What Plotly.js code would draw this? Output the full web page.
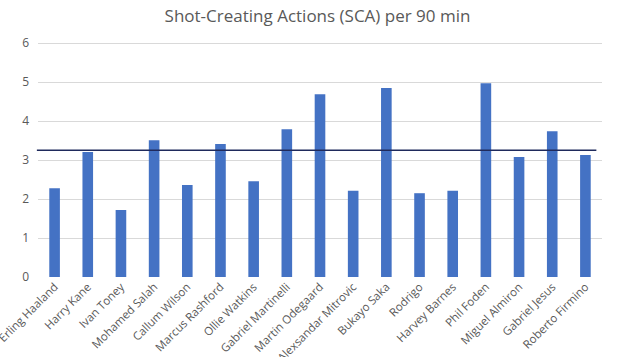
<!DOCTYPE html>
<html>
<head>
<meta charset="utf-8">
<script src="https://cdn.plot.ly/plotly-3.0.1.min.js"></script>
<style>html,body{margin:0;padding:0;background:#fff;}#chart{width:635px;height:357px;}</style>
</head>
<body>
<div id="chart"></div>
<script>
const players = ["Erling Haaland","Harry Kane","Ivan Toney","Mohamed Salah","Callum Wilson","Marcus Rashford","Ollie Watkins","Gabriel Martinelli","Martin Odegaard","Alexsandar Mitrovic","Bukayo Saka","Rodrigo","Harvey Barnes","Phil Foden","Miguel Almiron","Gabriel Jesus","Roberto Firmino"];
const sca90 = [2.28,3.21,1.72,3.51,2.36,3.41,2.46,3.79,4.69,2.21,4.85,2.15,2.21,4.97,3.08,3.74,3.13];
const avgLine = 3.25;
const yTicks = [0,1,2,3,4,5,6];

const font = "Open Sans, Noto Sans, sans-serif";
Plotly.newPlot("chart", [{
  type: "bar",
  x: players,
  y: sca90,
  marker: {color: "#4472c4"},
  hoverinfo: "x+y"
}], {
  width: 635, height: 357,
  margin: {l: 38, r: 33, t: 42, b: 80},
  paper_bgcolor: "#fff", plot_bgcolor: "#fff",
  bargap: 0.68,
  showlegend: false,
  title: {text: "Shot-Creating Actions (SCA) per 90 min", x: 0.5, xanchor: "center", y: 0.955, yanchor: "middle",
          font: {family: font, size: 17, color: "#595959"}},
  xaxis: {tickangle: -45, tickfont: {family: font, size: 11.5, color: "#595959"}, showgrid: false, showline: false, ticks: "", automargin: false},
  yaxis: {range: [0, 6.03], tickvals: yTicks, showgrid: true, gridcolor: "#d9d9d9", gridwidth: 1, zeroline: false,
          tickfont: {family: font, size: 12, color: "#595959"}, ticklabelstandoff: 8, automargin: false, fixedrange: true},
  shapes: [{type: "line", xref: "paper", yref: "y", x0: -0.002, x1: 0.99, y0: avgLine, y1: avgLine,
            line: {color: "#1f2a5c", width: 1.5}}]
}, {displayModeBar: false, staticPlot: true});
</script>
</body>
</html>
